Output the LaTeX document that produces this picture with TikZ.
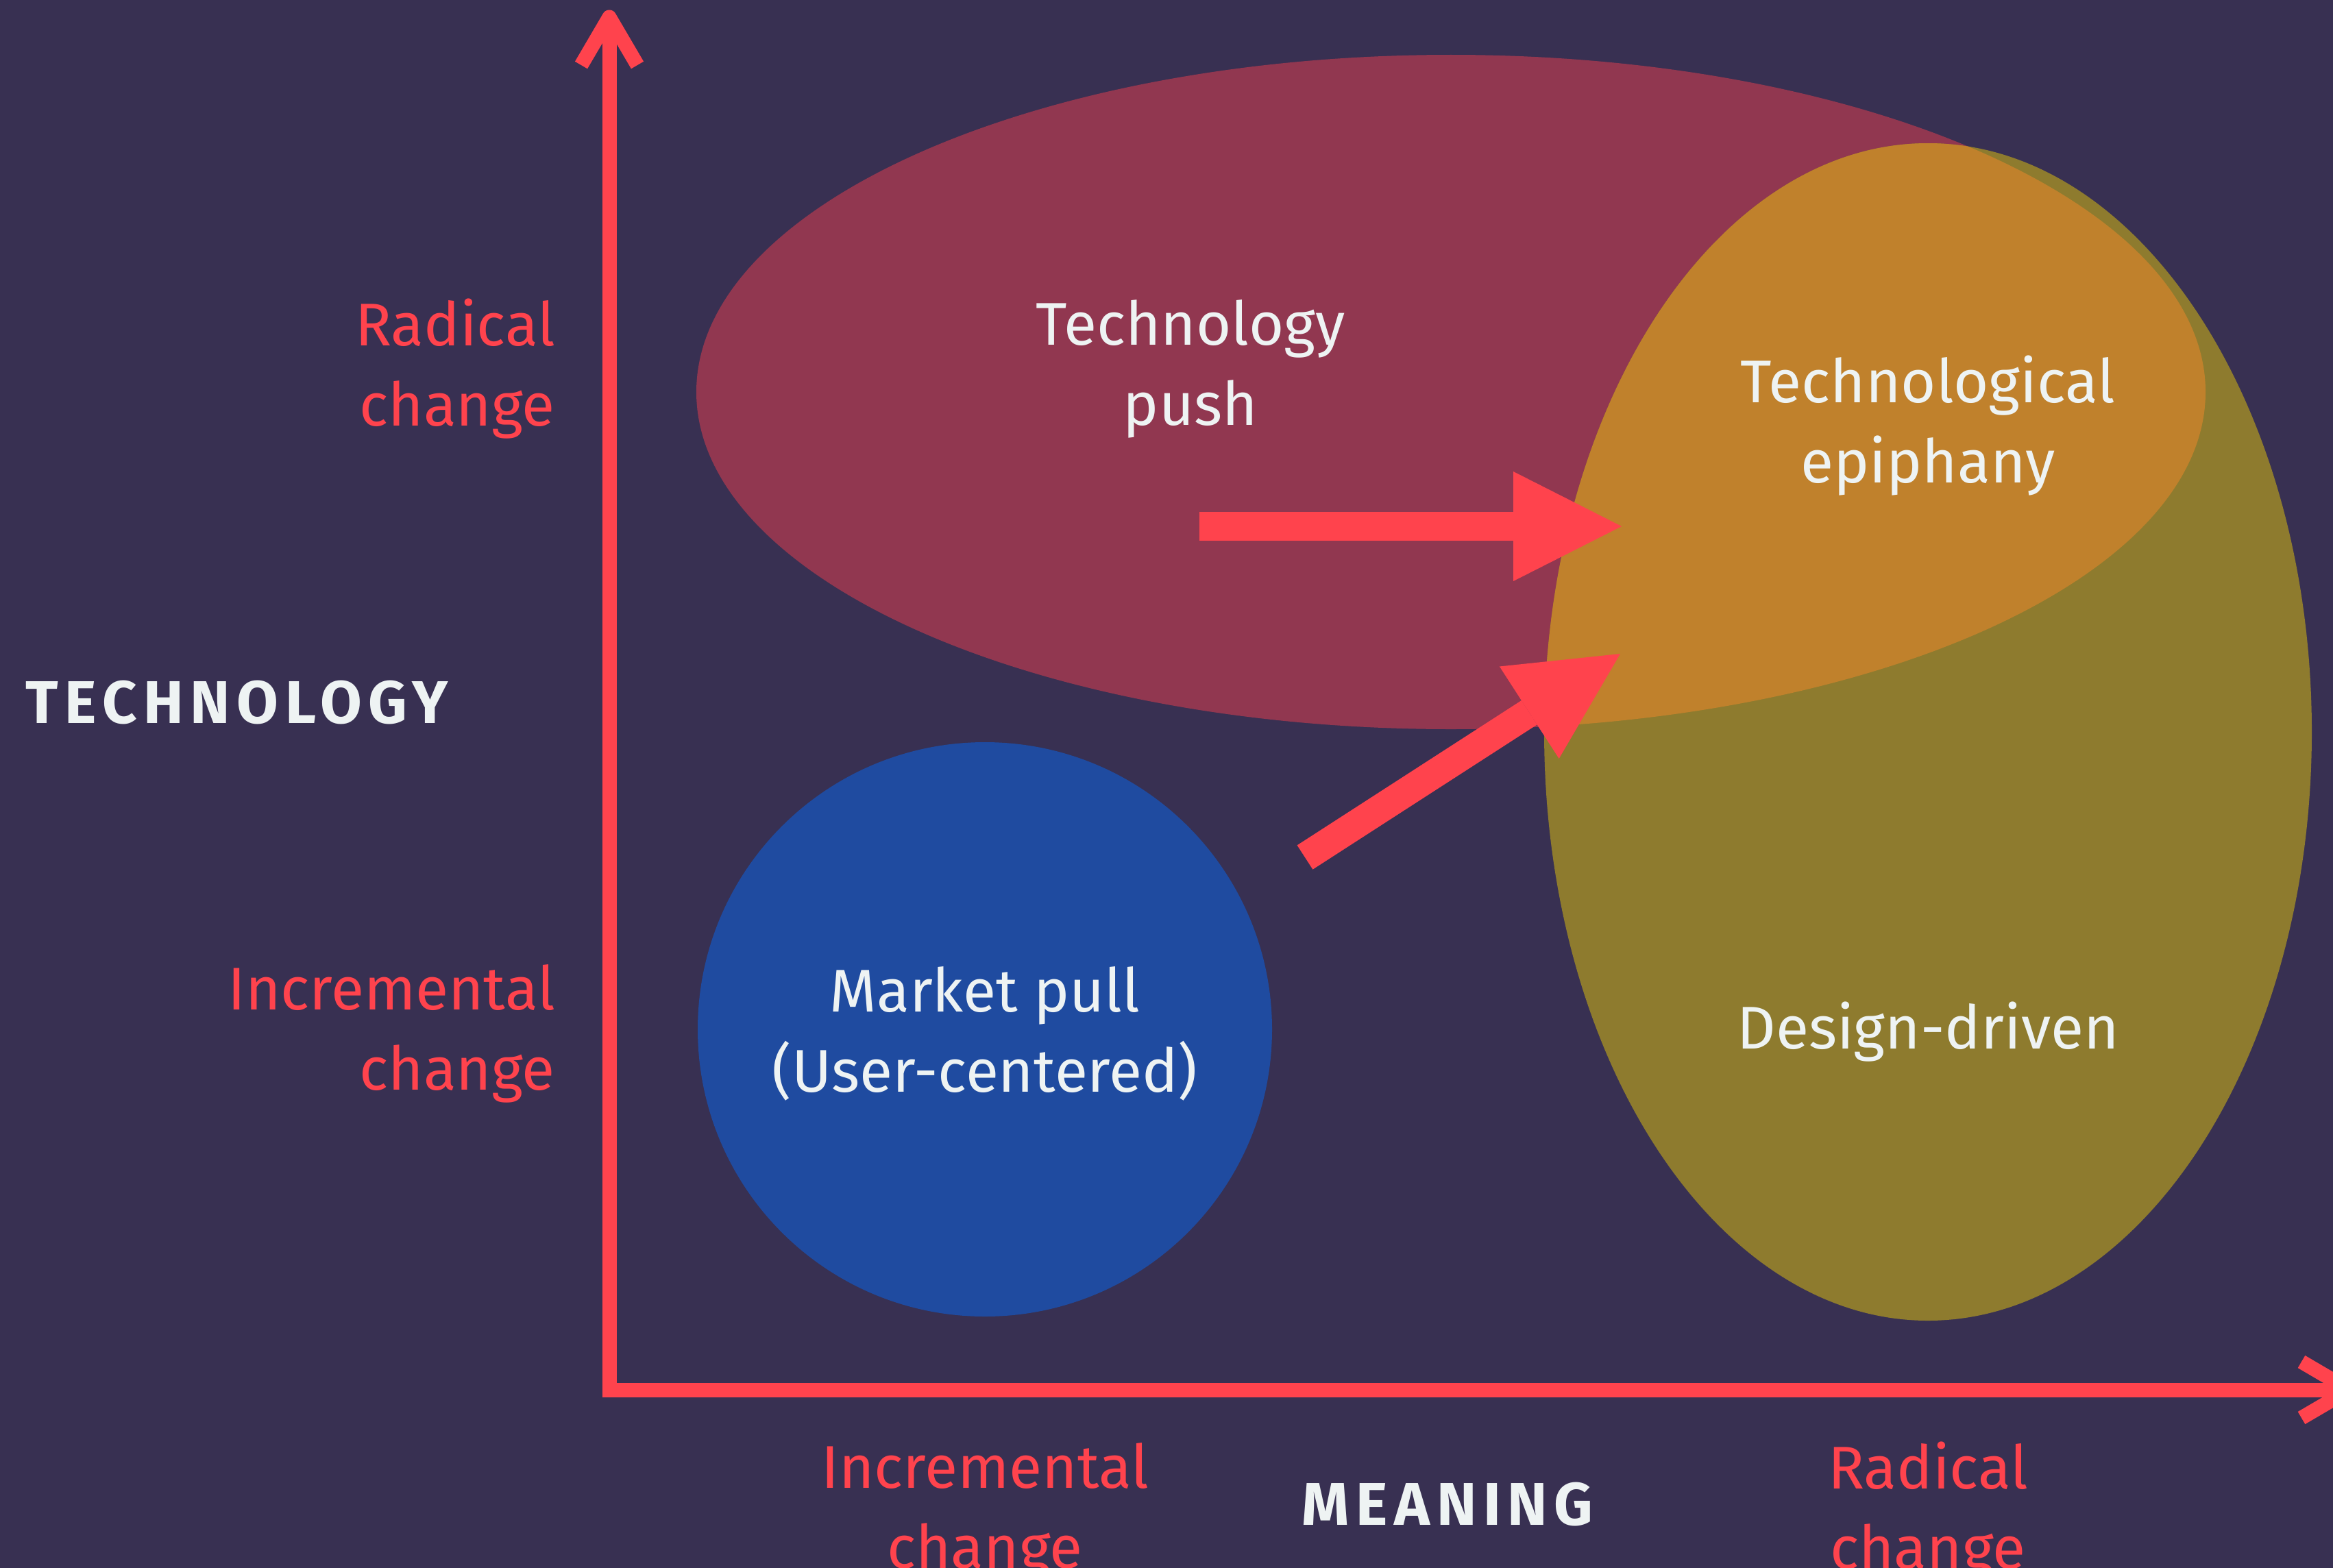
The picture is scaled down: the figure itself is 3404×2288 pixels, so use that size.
\documentclass[tikz,border=0pt]{standalone}
\usepackage{fontspec}
\setmainfont{Fira Sans}
\usepackage{xcolor}
\usetikzlibrary{arrows.meta}

\definecolor{bgpurple}{RGB}{56,48,82}
\definecolor{axisred}{RGB}{255,67,77}
\definecolor{pushred}{RGB}{145,55,80}
\definecolor{designolive}{RGB}{142,123,46}
\definecolor{epiorange}{RGB}{192,129,44}
\definecolor{pullblue}{RGB}{31,75,160}
\definecolor{labelwhite}{RGB}{238,243,243}

\tikzset{
  axisline/.style={draw=axisred, line width=21pt},
  bigarrow/.style={draw=axisred, line width=42pt,
    -{Triangle[length=158pt,width=160pt,line width=0pt]}},
  areatext/.style={text=labelwhite, align=center, inner sep=0pt,
    font=\fontsize{88}{117}\selectfont},
  scaletext/.style={text=axisred, inner sep=0pt,
    font=\fontsize{88}{117}\selectfont},
  axistitle/.style={text=labelwhite, inner sep=0pt,
    font=\fontsize{88}{117}\selectfont\bfseries\addfontfeatures{LetterSpace=11}},
}

\begin{document}
\begin{tikzpicture}[x=1pt,y=1pt,yscale=-1,xscale=1]
%background
\fill[bgpurple] (0,0) rectangle (3404,2288);
\useasboundingbox (0,0) rectangle (3404,2288);

%Shape: Ellipse (technology push)
\fill[pushred] (2117,572) ellipse [x radius=1101, y radius=492];
%Shape: Ellipse (design-driven)
\fill[designolive] (2813,1068) ellipse [x radius=560, y radius=859];
%overlap of the two
\begin{scope}
  \clip (2117,572) ellipse [x radius=1101, y radius=492];
  \fill[epiorange] (2813,1068) ellipse [x radius=560, y radius=859];
\end{scope}
%Shape: Circle (market pull)
\fill[pullblue] (1437,1502) circle [radius=419];

%Text nodes
\node[areatext] (tpush) at (1737,538) {Technology\\push};
\node[areatext] (tepiph) at (2813,621) {Technological\\epiphany};
\node[areatext] (ddriven) at (2813,1506) {Design-driven};
\node[areatext] (mpull) at (1437,1508) {Market pull\\(User-centered)};

%Straight Lines (axes)
\coordinate (origin) at (889,2028);
\coordinate (ytip) at (889,25);
\coordinate (xtip) at (3428,2028);
\draw[axisline, line join=miter] (ytip) -- (origin) -- (xtip);
\draw[axisline, line join=round] (ytip) ++(-41,70) -- (ytip) -- ++(41,70);
\draw[axisline, line join=round] (xtip) ++(-70,-41) -- (xtip) -- ++(-70,41);

%Axis titles and scale labels
\node[axistitle, anchor=west] (techtitle) at (37,1025) {TECHNOLOGY};
\node[axistitle] (meantitle) at (2112,2195) {MEANING};
\node[scaletext, anchor=east, align=right] (yradical) at (810,538) {Radical\\change};
\node[scaletext, anchor=east, align=right] (yincr) at (810,1508) {Incremental\\change};
\node[scaletext, align=center] (xincr) at (1437,2206) {Incremental\\change};
\node[scaletext, align=center] (xradical) at (2813,2206) {Radical\\change};

%Arrows
\coordinate (pushtail) at (1750,768);
\coordinate (pushhead) at (2366,768);
\coordinate (pulltail) at (1904,1251);
\coordinate (pullhead) at (2364,954);
\draw[bigarrow] (pushtail) -- (pushhead);
\draw[bigarrow] (pulltail) -- (pullhead);
\end{tikzpicture}
\end{document}
